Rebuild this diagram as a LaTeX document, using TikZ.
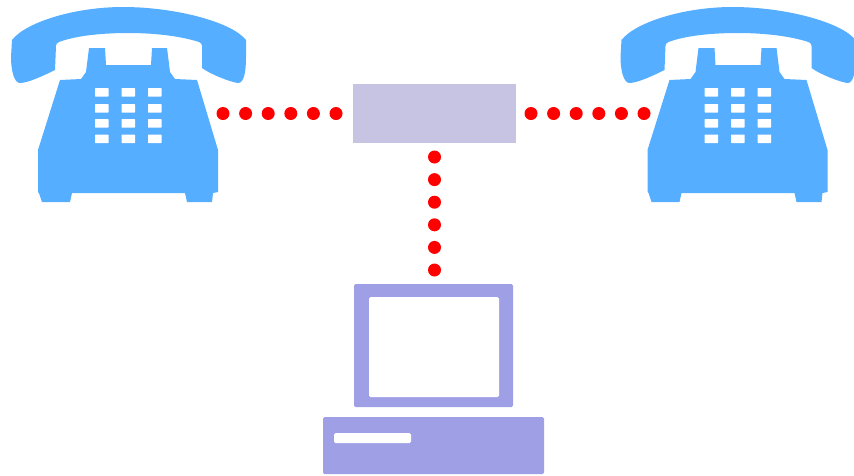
\documentclass[tikz,border=0pt]{standalone}
\usepackage{xcolor}
\usepackage{tikz}
\usetikzlibrary{positioning,calc}
\definecolor{phoneblue}{HTML}{55AEFF}
\definecolor{pcpurple}{HTML}{9F9FE6}
\definecolor{hubpurple}{HTML}{C6C4E2}
\definecolor{linkred}{HTML}{FF0000}

\begin{document}
\begin{tikzpicture}[x=1pt, y=-1pt]
        % Style definitions
        \tikzset{
            hub/.style={draw=none, fill=hubpurple, rectangle, minimum width=163pt, minimum height=59pt, inner sep=0pt, outer sep=0pt},
            link/.style={linkred, line width=13pt, line cap=round, dash pattern=on 0pt off 22.6pt},
            key/.style={fill=white, rounded corners=0.5pt},
            pcpart/.style={fill=pcpurple, rounded corners=1.5pt},
            pchole/.style={fill=white, rounded corners=1.5pt},
            phone/.pic={
                % Handset
                \fill [phoneblue] (12,40) .. controls (26,22) and (75,7) .. (123,7)
                    .. controls (175,7) and (232,22) .. (246,40) -- (246,57)
                    .. controls (246,72) and (244,83) .. (238,83)
                    .. controls (230,82) and (210,74) .. (202,68) -- (202,46)
                    .. controls (202,44) and (201,43) .. (199,42)
                    .. controls (180,36) and (155,33) .. (128,33)
                    .. controls (100,33) and (75,36) .. (59,42)
                    .. controls (57,43) and (56,44) .. (56,46) -- (55,70)
                    .. controls (45,75) and (28,83) .. (20,83)
                    .. controls (14,83) and (11,70) .. (11,57) -- cycle;
                % Body
                \fill [phoneblue] (89,48) -- (105,48) -- (106,65) -- (151,65) -- (152,48) -- (167,48)
                    -- (170,72) -- (175,79) -- (197,80) -- (218,150) -- (218,192) -- (213,193)
                    -- (212,202) -- (187,202) -- (185,193) -- (72,193) -- (70,202) -- (42,202)
                    -- (39,193) -- (38,192) -- (38,150) -- (60,80) -- (81,79) -- (86,72) -- cycle;
                % Keypad
                \foreach \kx in {95,121.5,148} {
                    \foreach \ky in {88,104,119,134.5} {
                        \fill [key] (\kx,\ky) rectangle ++(13.5,8.5);
                    }
                }
            }
        }
        \useasboundingbox (0,0) rectangle (854,475);

        % Nodes
        \node [hub] (switch) at (434.5,113.5) {};
        \pic at (0,0) {phone};
        \pic at (609.5,0) {phone};
        \coordinate [left=17pt of switch.west] (switchL);
        \coordinate [right=15pt of switch.east] (switchR);
        \coordinate [below=14pt of switch.south] (switchB);
        \coordinate (phoneL) at (222.5,113.5);
        \coordinate (phoneR) at (644.5,113.5);
        \coordinate (pc) at (434.5,270.5);

        % Connections
        \draw [link] (switchL) -- (phoneL);
        \draw [link] (switchR) -- (phoneR);
        \draw [link] (switchB) -- (pc);

        % Computer
        \fill [pcpart] (354,284) rectangle (513,407);
        \fill [pchole] (369,297) rectangle (499,397);
        \fill [pcpart] (323,417) rectangle (544,474);
        \fill [pchole] (334,433) rectangle (411,443);
    \end{tikzpicture}
\end{document}
